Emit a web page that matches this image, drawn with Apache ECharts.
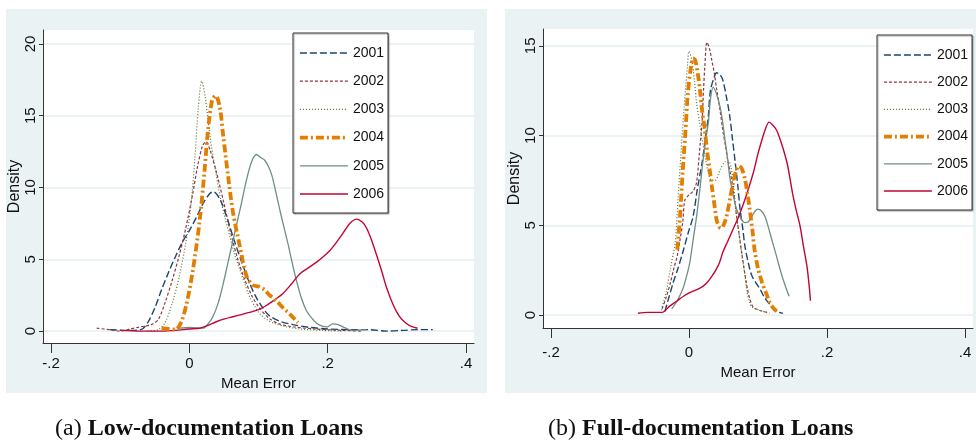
<!DOCTYPE html>
<html>
<head>
<meta charset="utf-8">
<script src="https://cdn.jsdelivr.net/npm/echarts@6.0.0/dist/echarts.min.js"></script>
<style>
html, body { margin: 0; padding: 0; background: #fff; }
#main { width: 976px; height: 442px; }
</style>
</head>
<body>
<div id="main"></div>
<script>
// kernel density estimates of mean error, by origination year
var years = ['2001', '2002', '2003', '2004', '2005', '2006'];
var xTicks = [-0.2, 0, 0.2, 0.4];
var xTickLabels = ['-.2', '0', '.2', '.4'];
var lowYTicks = [0, 5, 10, 15, 20];
var fullYTicks = [0, 5, 10, 15];

// (a) low-documentation loans
var low2001 = [[-0.115,0.1],[-0.09,0.05],[-0.07,0.1],[-0.06,0.6],[-0.05,1.6],[-0.04,2.9],[-0.03,4.1],[-0.02,5.2],[-0.01,6.2],[0,7.0],[0.01,7.9],[0.02,8.9],[0.03,9.6],[0.035,9.7],[0.045,9.1],[0.055,7.8],[0.065,6.3],[0.075,4.9],[0.085,3.6],[0.095,2.5],[0.105,1.7],[0.115,1.1],[0.13,0.7],[0.15,0.45],[0.175,0.25],[0.2,0.15],[0.23,0.1],[0.26,0.1],[0.285,0.0],[0.31,0.05],[0.33,0.1],[0.352,0.1]];
var low2002 = [[-0.134,0.2],[-0.115,0.1],[-0.1,0.0],[-0.085,0.15],[-0.07,0.3],[-0.055,0.45],[-0.045,0.8],[-0.035,2.0],[-0.025,3.5],[-0.015,5.2],[-0.005,7.2],[0.005,9.6],[0.012,11.5],[0.019,12.9],[0.024,13.2],[0.03,12.6],[0.04,10.9],[0.05,8.9],[0.06,6.8],[0.07,5.0],[0.08,3.6],[0.09,2.5],[0.1,1.7],[0.115,0.9],[0.13,0.5],[0.15,0.3],[0.18,0.15],[0.22,0.05],[0.25,0.0]];
var low2003 = [[-0.06,0.0],[-0.045,0.1],[-0.035,0.6],[-0.025,1.9],[-0.015,3.7],[-0.005,6.2],[0.002,8.6],[0.008,12.0],[0.013,15.6],[0.018,17.4],[0.023,16.3],[0.03,13.5],[0.037,11.4],[0.044,9.5],[0.051,8.0],[0.058,6.7],[0.065,5.4],[0.073,4.3],[0.08,3.3],[0.087,2.4],[0.095,1.7],[0.102,1.2],[0.112,0.8],[0.122,0.55],[0.14,0.3],[0.16,0.15],[0.19,0.05],[0.22,0.0]];
var low2004 = [[-0.04,0.2],[-0.03,0.15],[-0.02,0.1],[-0.012,0.6],[-0.004,1.9],[0.005,4.2],[0.015,7.7],[0.022,11.2],[0.027,14.0],[0.033,16.1],[0.038,16.4],[0.044,15.6],[0.049,13.6],[0.056,10.8],[0.063,8.3],[0.073,5.9],[0.083,3.8],[0.092,3.2],[0.1,3.1],[0.108,2.9],[0.116,2.5],[0.126,2.1],[0.136,1.6],[0.146,1.15],[0.157,0.6]];
var low2005 = [[-0.016,0.2],[0.0,0.25],[0.02,0.2],[0.027,0.5],[0.034,1.0],[0.042,2.0],[0.049,3.3],[0.056,4.8],[0.063,6.3],[0.073,8.4],[0.083,10.6],[0.09,11.8],[0.097,12.3],[0.103,12.1],[0.109,11.9],[0.114,11.5],[0.119,10.9],[0.125,9.7],[0.131,8.4],[0.137,7.2],[0.143,6.0],[0.149,4.7],[0.155,3.5],[0.162,2.3],[0.169,1.45],[0.177,0.9],[0.184,0.55],[0.192,0.35],[0.2,0.3],[0.207,0.5],[0.215,0.45],[0.222,0.3],[0.236,0.05],[0.256,0.1]];
var low2006 = [[-0.1,0.05],[-0.07,0.0],[-0.04,0.0],[-0.02,0.05],[0.0,0.15],[0.015,0.2],[0.027,0.4],[0.039,0.65],[0.051,0.85],[0.063,1.0],[0.075,1.15],[0.087,1.3],[0.1,1.5],[0.112,1.8],[0.124,2.2],[0.135,2.6],[0.148,3.3],[0.16,4.0],[0.172,4.4],[0.184,4.8],[0.194,5.2],[0.203,5.6],[0.213,6.2],[0.222,6.8],[0.232,7.5],[0.242,7.8],[0.25,7.6],[0.256,7.2],[0.263,6.4],[0.27,5.4],[0.278,4.2],[0.285,3.05],[0.295,1.8],[0.304,1.0],[0.312,0.6],[0.32,0.35],[0.33,0.2]];

// (b) full-documentation loans
var full2001 = [[-0.035,0.2],[-0.029,1.0],[-0.023,1.8],[-0.016,2.6],[-0.009,3.5],[-0.001,4.6],[0.006,5.5],[0.012,7.0],[0.019,8.5],[0.024,9.9],[0.028,11.1],[0.031,12.5],[0.036,13.2],[0.04,13.5],[0.045,13.4],[0.049,13.1],[0.054,12.2],[0.059,11.1],[0.063,9.8],[0.067,8.5],[0.071,7.1],[0.074,5.9],[0.078,4.8],[0.081,3.85],[0.086,2.9],[0.091,2.2],[0.097,1.8],[0.103,1.45],[0.109,1.0],[0.115,0.7],[0.121,0.4],[0.127,0.2],[0.136,0.1]];
var full2002 = [[-0.039,0.35],[-0.033,1.0],[-0.027,1.8],[-0.022,2.6],[-0.017,3.3],[-0.013,4.2],[-0.009,5.2],[-0.006,6.4],[0.0,6.7],[0.006,6.9],[0.011,7.4],[0.015,9.0],[0.019,10.8],[0.021,12.5],[0.023,13.9],[0.026,15.2],[0.03,14.8],[0.033,14.2],[0.037,13.4],[0.04,12.6],[0.045,11.4],[0.049,10.3],[0.053,9.4],[0.056,8.65],[0.06,7.9],[0.064,7.0],[0.069,5.5],[0.073,4.4],[0.077,3.3],[0.081,2.3],[0.085,1.4],[0.089,0.8],[0.093,0.45],[0.1,0.3],[0.107,0.2],[0.113,0.15]];
var full2003 = [[-0.04,0.3],[-0.033,1.3],[-0.027,2.6],[-0.02,4.05],[-0.016,6.4],[-0.012,8.8],[-0.007,11.6],[-0.002,14.0],[0.0,14.7],[0.004,14.2],[0.008,13.0],[0.011,11.8],[0.015,10.8],[0.019,9.8],[0.024,8.7],[0.028,7.9],[0.033,7.5],[0.038,7.5],[0.045,8.1],[0.052,8.55],[0.057,8.6],[0.061,8.2],[0.064,7.4],[0.069,5.5],[0.073,4.4],[0.077,3.3],[0.081,2.2],[0.084,1.3],[0.088,0.7],[0.091,0.45],[0.1,0.3],[0.113,0.15],[0.117,0.1]];
var full2004 = [[-0.017,3.65],[-0.013,5.5],[-0.009,8.1],[-0.005,10.3],[-0.002,12.2],[0.002,13.6],[0.006,14.3],[0.009,14.2],[0.013,13.4],[0.016,12.5],[0.019,11.4],[0.023,10.3],[0.026,9.2],[0.03,8.1],[0.033,7.2],[0.037,6.1],[0.04,5.3],[0.044,4.9],[0.047,4.85],[0.051,5.1],[0.055,5.6],[0.06,6.6],[0.064,7.4],[0.068,8.0],[0.072,8.3],[0.076,8.2],[0.081,7.6],[0.085,6.7],[0.088,5.9],[0.092,4.7],[0.095,3.65],[0.1,2.6],[0.106,1.8],[0.112,1.2],[0.117,0.7],[0.122,0.4],[0.127,0.2]];
var full2005 = [[-0.025,0.35],[-0.017,0.8],[-0.009,1.45],[-0.004,2.1],[0.001,2.9],[0.006,4.2],[0.011,5.5],[0.016,7.1],[0.02,8.5],[0.024,9.7],[0.028,10.7],[0.031,12.0],[0.035,12.7],[0.04,12.3],[0.045,11.6],[0.049,10.7],[0.052,9.8],[0.056,8.7],[0.059,7.7],[0.064,6.7],[0.069,5.9],[0.075,5.4],[0.081,5.15],[0.086,5.2],[0.091,5.5],[0.096,5.8],[0.1,5.9],[0.105,5.8],[0.11,5.5],[0.115,4.9],[0.12,4.2],[0.126,3.4],[0.132,2.55],[0.138,1.8],[0.145,1.05]];
var full2006 = [[-0.074,0.1],[-0.06,0.15],[-0.05,0.15],[-0.039,0.15],[-0.028,0.5],[-0.017,0.8],[-0.008,1.05],[0.001,1.25],[0.007,1.35],[0.013,1.45],[0.02,1.6],[0.026,1.8],[0.032,2.1],[0.038,2.45],[0.044,2.9],[0.049,3.5],[0.056,4.1],[0.064,4.8],[0.071,5.4],[0.078,6.1],[0.085,6.9],[0.093,7.9],[0.1,9.0],[0.106,9.8],[0.111,10.4],[0.116,10.75],[0.121,10.6],[0.127,10.3],[0.132,9.8],[0.137,9.2],[0.142,8.5],[0.146,7.7],[0.15,6.8],[0.155,5.9],[0.161,4.95],[0.166,3.8],[0.171,2.7],[0.174,1.7],[0.176,0.8]];

var lowData = [low2001, low2002, low2003, low2004, low2005, low2006];
var fullData = [full2001, full2002, full2003, full2004, full2005, full2006];

var lineStyles = [
    { color: '#1a476f', width: 1.4, type: [7, 3] },
    { color: '#90353b', width: 1.2, type: [3, 2] },
    { color: '#55752f', width: 1.2, type: [1, 2] },
    { color: '#e37e00', width: 3.8, type: [8, 3, 2, 3] },
    { color: '#6e8e84', width: 1.3, type: 'solid' },
    { color: '#c10534', width: 1.4, type: 'solid' }
];

var sans = "'Liberation Sans', Arial, sans-serif";
var serif = "'Liberation Serif', serif";
var bgColor = '#eaf2f3';
var gridColor = '#e6eff1';

function makeX(idx, labelMargin, nameGap) {
    return {
        type: 'value',
        gridIndex: idx,
        min: -0.2116,
        max: 0.4116,
        axisLine: { show: true, onZero: false, lineStyle: { color: '#333', width: 1 } },
        axisTick: { show: true, length: 10, customValues: xTicks, lineStyle: { color: '#333' } },
        axisLabel: {
            customValues: xTicks,
            margin: labelMargin,
            color: '#111',
            fontSize: 15,
            fontFamily: sans,
            formatter: function (v) {
                for (var i = 0; i < xTicks.length; i++) {
                    if (Math.abs(xTicks[i] - v) < 1e-9) return xTickLabels[i];
                }
                return '';
            }
        },
        splitLine: { show: false },
        name: 'Mean Error',
        nameLocation: 'middle',
        nameGap: nameGap,
        nameTextStyle: { color: '#111', fontSize: 15, fontFamily: sans }
    };
}

function makeY(idx, min, max, ticks) {
    return {
        type: 'value',
        gridIndex: idx,
        min: min,
        max: max,
        axisLine: { show: true, onZero: false, lineStyle: { color: '#333', width: 1 } },
        axisTick: { show: true, length: 4, customValues: ticks, lineStyle: { color: '#333' } },
        axisLabel: {
            customValues: ticks,
            rotate: 90,
            margin: 5,
            color: '#111',
            fontSize: 15,
            fontFamily: sans
        },
        splitLine: { show: true, lineStyle: { color: gridColor, width: 1.5 } },
        name: 'Density',
        nameLocation: 'middle',
        nameGap: 18,
        nameTextStyle: { color: '#111', fontSize: 16, fontFamily: sans }
    };
}

function makeLegend(left, top, gap) {
    return {
        orient: 'vertical',
        left: left,
        top: top,
        data: years,
        itemWidth: 48,
        itemHeight: 14,
        itemGap: gap,
        padding: [13, 4, 12, 5],
        backgroundColor: '#fff',
        borderColor: '#333',
        borderWidth: 1,
        borderRadius: 0,
        shadowColor: 'rgba(0,0,0,0.35)',
        shadowOffsetX: 1,
        shadowOffsetY: 1,
        shadowBlur: 1,
        // line sample only, no marker in the middle
        itemStyle: { color: 'rgba(0,0,0,0)', borderColor: 'rgba(0,0,0,0)', borderWidth: 0 },
        lineStyle: { width: 'inherit', type: 'inherit', color: 'inherit' },
        textStyle: { color: '#111', fontSize: 14, fontFamily: sans },
        selectedMode: false
    };
}

var series = [];
years.forEach(function (y, i) {
    series.push({
        name: y, type: 'line', xAxisIndex: 0, yAxisIndex: 0,
        data: lowData[i], symbol: 'none', showSymbol: false, smooth: 0.3,
        lineStyle: lineStyles[i], itemStyle: { color: lineStyles[i].color },
        z: i === 3 ? 3 : 2
    });
    series.push({
        name: y, type: 'line', xAxisIndex: 1, yAxisIndex: 1,
        data: fullData[i], symbol: 'none', showSymbol: false, smooth: 0.3,
        lineStyle: lineStyles[i], itemStyle: { color: lineStyles[i].color },
        z: i === 3 ? 3 : 2
    });
});

var myChart = echarts.init(document.getElementById('main'));
var option = {
    backgroundColor: '#fff',
    animation: false,
    graphic: [
        { type: 'rect', z: -10, silent: true, shape: { x: 6, y: 9, width: 481, height: 384 }, style: { fill: bgColor } },
        { type: 'rect', z: -10, silent: true, shape: { x: 505, y: 9, width: 471, height: 384 }, style: { fill: bgColor } },
        {
            type: 'text', left: 55, top: 417, silent: true,
            style: {
                text: '{n|(a) }{b|Low-documentation Loans}',
                rich: {
                    n: { fontFamily: serif, fontSize: 24, fill: '#111' },
                    b: { fontFamily: serif, fontSize: 24, fontWeight: 'bold', fill: '#111' }
                }
            }
        },
        {
            type: 'text', left: 548, top: 417, silent: true,
            style: {
                text: '{n|(b) }{b|Full-documentation Loans}',
                rich: {
                    n: { fontFamily: serif, fontSize: 24, fill: '#111' },
                    b: { fontFamily: serif, fontSize: 24, fontWeight: 'bold', fill: '#111' }
                }
            }
        }
    ],
    grid: [
        { left: 43, top: 30, width: 431, height: 313, show: true, backgroundColor: '#fff', borderWidth: 0, outerBoundsMode: 'none' },
        { left: 543, top: 29, width: 430, height: 299, show: true, backgroundColor: '#fff', borderWidth: 0, outerBoundsMode: 'none' }
    ],
    xAxis: [makeX(0, 13, 27), makeX(1, 17, 35)],
    yAxis: [makeY(0, -0.83, 20.97, lowYTicks), makeY(1, -0.72, 15.94, fullYTicks)],
    legend: [makeLegend(293, 33, 14.2), makeLegend(877, 35, 13.2)],
    series: series
};
myChart.setOption(option);
</script>
</body>
</html>
